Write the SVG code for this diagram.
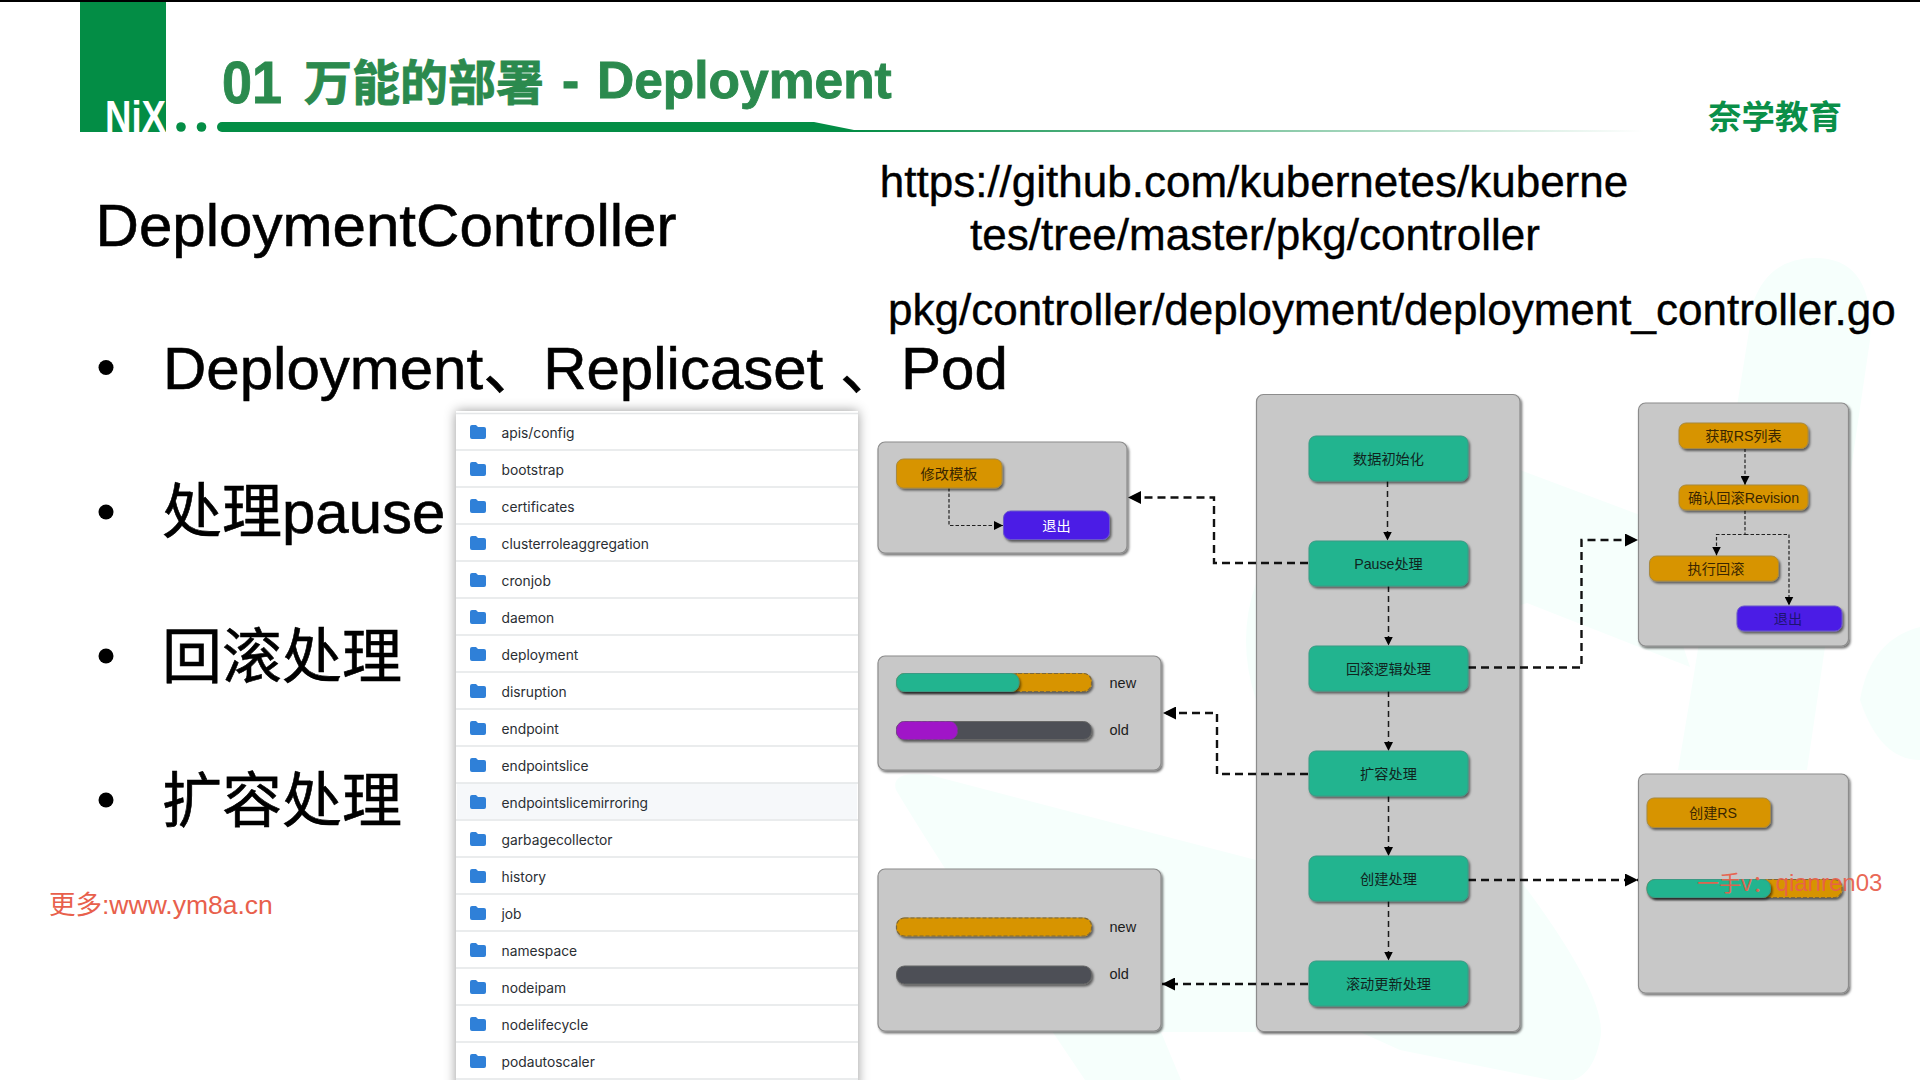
<svg xmlns="http://www.w3.org/2000/svg" width="1920" height="1080" viewBox="0 0 1920 1080">
<defs>
<style>
.t{font-family:"Liberation Sans","Noto Sans CJK SC",sans-serif}
.p{fill:#c8c8c8;stroke:#8c8c8c;stroke-width:1.2;filter:url(#sh)}
.g{fill:#20b48f;stroke:#3a9a84;stroke-width:1;filter:url(#sh)}
.o{fill:#d79400;stroke:#a8893f;stroke-width:1;filter:url(#sh)}
.b{fill:#4b1de6;stroke:#6b58c8;stroke-width:1;filter:url(#sh)}
.d{fill:#4d5056;stroke:#666;stroke-width:1;filter:url(#sh)}
.od{fill:#d79400;stroke:#7d683a;stroke-width:1.2;stroke-dasharray:4 2}
.nt{font-size:14.2px;fill:#10241e;text-anchor:middle}
.ot{font-size:14.2px;fill:#3a2600;text-anchor:middle}
.bar{font-size:14.5px;fill:#1c1c1c}
.big{font-size:60px;fill:#000;stroke:#000;stroke-width:.6}
.url{font-size:44px;fill:#000;stroke:#000;stroke-width:.4}
.row{font-family:Inter,"Liberation Sans",sans-serif;font-size:13.8px;fill:#2a2e33}
.sep{stroke:#e4e6e8;stroke-width:1.5}
.c1{fill:none;stroke:#111;stroke-width:2.4;stroke-dasharray:8 5}
.c2{fill:none;stroke:#1a1a1a;stroke-width:1.5;stroke-dasharray:6 4}
.c3{fill:none;stroke:#222;stroke-width:1.2;stroke-dasharray:3.5 2}
</style>
<filter id="sh" x="-10%" y="-20%" width="125%" height="150%"><feDropShadow dx="1.5" dy="2" stdDeviation="1.2" flood-color="#000" flood-opacity=".55"/></filter>
<filter id="ls" x="-5%" y="-5%" width="110%" height="110%"><feDropShadow dx="0" dy="0" stdDeviation="6" flood-color="#000" flood-opacity=".4"/></filter>
<linearGradient id="fade" x1="0" y1="0" x2="1" y2="0"><stop offset="0" stop-color="#038d45"/><stop offset="1" stop-color="#038d45" stop-opacity="0"/></linearGradient>
<marker id="a1" viewBox="0 0 13 13" refX="13" refY="6.5" markerWidth="13" markerHeight="13" markerUnits="userSpaceOnUse" orient="auto"><path d="M0 0L13 6.5L0 13z" fill="#000"/></marker>
<marker id="a2" viewBox="0 0 9 9" refX="9" refY="4.5" markerWidth="9" markerHeight="9" markerUnits="userSpaceOnUse" orient="auto"><path d="M0 0L9 4.5L0 9z" fill="#000"/></marker>
<path id="fo" d="M0 2Q0 0 2 0H6L8 2H14Q16 2 16 4V12Q16 14 14 14H2Q0 14 0 12z" fill="#2f80d8"/>
</defs>
<rect width="1920" height="1080" fill="#fff"/>
<g id="bg-logo" fill="#f6fffc">
<path d="M896 790Q890 770 930 775L1256 860V1032H1161L1181 1080H1085Q950 880 896 790z"/>
<path d="M1520 880Q1610 1000 1600 1040Q1590 1090 1550 1080L1400 1050L1360 1032H1520z"/>
<path d="M1256 583Q1236 640 1256 700L1527 603L1690 667L1640 515L1520 470L1300 450z"/>
<path d="M1754 300Q1770 258 1815 258Q1875 258 1870 340L1807 770H1678L1693 680z"/>
<path d="M1860 700Q1870 640 1920 627V760Q1880 760 1860 700z"/>
</g>
<g id="header">
<rect x="0" y="0" width="1920" height="2" fill="#000"/>
<rect x="80" y="2" width="86" height="130" fill="#038d45"/>
<text x="105" y="132" class="t" font-size="45" font-weight="bold" fill="#fff" textLength="61" lengthAdjust="spacingAndGlyphs">NiX</text>
<circle cx="181" cy="127" r="4.8" fill="#038d45"/>
<circle cx="201.500" cy="127" r="4.800" fill="#038d45"/>
<path d="M222 122H814L854 130V132H222A5 5 0 0 1 222 122z" fill="#038d45"/>
<rect x="854" y="130" width="790" height="2" fill="url(#fade)"/>
<text class="t" font-weight="bold" fill="#2b8a4e" stroke="#2b8a4e" stroke-width=".9"><tspan x="222" y="103" font-size="60" textLength="60" lengthAdjust="spacingAndGlyphs">01</tspan><tspan x="304" y="100" font-size="48">万能的部署</tspan></text>
<text class="t" font-weight="bold" fill="#2b8a4e" stroke="#2b8a4e" stroke-width=".9"><tspan x="562" y="98" font-size="51.500">-</tspan></text>
<text class="t" font-weight="bold" fill="#2b8a4e" stroke="#2b8a4e" stroke-width=".9"><tspan x="597" y="98" font-size="51.500">Deployment</tspan></text>
<text x="1708" y="129" class="t" font-size="33.500" font-weight="bold" fill="#0a8f48">奈学教育</text>
</g>
<g id="slide-text" class="t">
<text x="95.500" y="246" class="big" textLength="581" lengthAdjust="spacingAndGlyphs">DeploymentController</text>
<text x="1254" y="197" class="url" text-anchor="middle">https://github.com/kubernetes/kuberne</text>
<text x="1255" y="250" class="url" text-anchor="middle">tes/tree/master/pkg/controller</text>
<text x="888" y="325" class="url">pkg/controller/deployment/deployment_controller.go</text>
<circle cx="106" cy="367.500" r="7.500" fill="#000"/>
<circle cx="106" cy="512" r="7.500" fill="#000"/>
<circle cx="106" cy="656" r="7.500" fill="#000"/>
<circle cx="106" cy="800" r="7.500" fill="#000"/>
<text y="389" class="big"><tspan x="163">Deployment、Replicaset 、</tspan><tspan x="901">Pod</tspan></text>
<text x="162" y="533" class="big">处理pause</text>
<text x="162" y="678" class="big">回滚处理</text>
<text x="162" y="822" class="big">扩容处理</text>
<text x="49" y="914" font-size="26.500" fill="#e8604c">更多:www.ym8a.cn</text>
</g>
<g id="file-list">
<rect x="456" y="411" width="402" height="680" fill="#fff" filter="url(#ls)"/>
<rect x="457" y="783" width="400" height="36" fill="#f6f8fa"/>
<g class="sep">
<path d="M456 413.500H858M456 450H858M456 487H858M456 524H858M456 561H858M456 598H858M456 635H858M456 672H858M456 709H858M456 746H858M456 783H858M456 820H858M456 857H858M456 894H858M456 931H858M456 968H858M456 1005H858M456 1042H858M456 1079H858"/>
</g>
<use href="#fo" x="470" y="425"/><use href="#fo" x="470" y="462"/><use href="#fo" x="470" y="499"/><use href="#fo" x="470" y="536"/><use href="#fo" x="470" y="573"/><use href="#fo" x="470" y="610"/><use href="#fo" x="470" y="647"/><use href="#fo" x="470" y="684"/><use href="#fo" x="470" y="721"/><use href="#fo" x="470" y="758"/><use href="#fo" x="470" y="795"/><use href="#fo" x="470" y="832"/><use href="#fo" x="470" y="869"/><use href="#fo" x="470" y="906"/><use href="#fo" x="470" y="943"/><use href="#fo" x="470" y="980"/><use href="#fo" x="470" y="1017"/><use href="#fo" x="470" y="1054"/>
<text class="row" x="501.500" y="437.500">apis/config</text>
<text class="row" x="501.500" y="474.500">bootstrap</text>
<text class="row" x="501.500" y="511.500">certificates</text>
<text class="row" x="501.500" y="548.500">clusterroleaggregation</text>
<text class="row" x="501.500" y="585.500">cronjob</text>
<text class="row" x="501.500" y="622.500">daemon</text>
<text class="row" x="501.500" y="659.500">deployment</text>
<text class="row" x="501.500" y="696.500">disruption</text>
<text class="row" x="501.500" y="733.500">endpoint</text>
<text class="row" x="501.500" y="770.500">endpointslice</text>
<text class="row" x="501.500" y="807.500">endpointslicemirroring</text>
<text class="row" x="501.500" y="844.500">garbagecollector</text>
<text class="row" x="501.500" y="881.500">history</text>
<text class="row" x="501.500" y="918.500">job</text>
<text class="row" x="501.500" y="955.500">namespace</text>
<text class="row" x="501.500" y="992.500">nodeipam</text>
<text class="row" x="501.500" y="1029.500">nodelifecycle</text>
<text class="row" x="501.500" y="1066.500">podautoscaler</text>
</g>
<g id="panel-main"><rect class="p" x="1256.500" y="394.500" width="263.500" height="637" rx="7"/></g>
<g id="panel-pause"><rect class="p" x="878" y="442" width="249" height="111" rx="7"/></g>
<g id="panel-scale"><rect class="p" x="878" y="656" width="283" height="114" rx="7"/></g>
<g id="panel-rolling"><rect class="p" x="878" y="869" width="283" height="162" rx="7"/></g>
<g id="panel-rollback"><rect class="p" x="1638.500" y="403" width="210" height="243" rx="7"/></g>
<g id="panel-create"><rect class="p" x="1638.500" y="774" width="210" height="219" rx="7"/></g>
<g id="connectors">
<path class="c1" d="M1308 563H1214V497.500H1128" marker-end="url(#a1)"/>
<path class="c1" d="M1308 774H1217V713H1163" marker-end="url(#a1)"/>
<path class="c1" d="M1308 984H1162" marker-end="url(#a1)"/>
<path class="c1" d="M1468 667.500H1581.500V540H1638" marker-end="url(#a1)"/>
<path class="c1" d="M1468 880H1638" marker-end="url(#a1)"/>
<path class="c2" d="M1387.500 481V540.500" marker-end="url(#a2)"/>
<path class="c2" d="M1388.500 586V645.500" marker-end="url(#a2)"/>
<path class="c2" d="M1388.500 691V751" marker-end="url(#a2)"/>
<path class="c2" d="M1388.500 796V856" marker-end="url(#a2)"/>
<path class="c2" d="M1388.500 901V960.500" marker-end="url(#a2)"/>
<path class="c3" d="M949 488V525.500H1003" marker-end="url(#a2)"/>
<path class="c3" d="M1745 448.500V485" marker-end="url(#a2)"/>
<path class="c3" d="M1745 510.500V534.500H1716.500V555.500" marker-end="url(#a2)"/>
<path class="c3" d="M1745 534.500H1789V605.500" marker-end="url(#a2)"/>
</g>
<g id="n-init" class="t"><rect class="g" x="1309" y="436" width="159" height="45" rx="7"/><text class="nt" x="1388.500" y="463.500">数据初始化</text></g>
<g id="n-pause" class="t"><rect class="g" x="1309" y="541" width="159" height="45" rx="7"/><text class="nt" x="1388.500" y="568.500">Pause处理</text></g>
<g id="n-rollback" class="t"><rect class="g" x="1309" y="646" width="159" height="45" rx="7"/><text class="nt" x="1388.500" y="674">回滚逻辑处理</text></g>
<g id="n-scale" class="t"><rect class="g" x="1309" y="751" width="159" height="45" rx="7"/><text class="nt" x="1388.500" y="779">扩容处理</text></g>
<g id="n-create" class="t"><rect class="g" x="1309" y="856" width="159" height="45" rx="7"/><text class="nt" x="1388.500" y="884">创建处理</text></g>
<g id="n-rolling" class="t"><rect class="g" x="1309" y="961" width="159" height="45" rx="7"/><text class="nt" x="1388.500" y="989">滚动更新处理</text></g>
<g id="n-template" class="t"><rect class="o" x="896.500" y="459" width="105.500" height="29" rx="7"/><text class="ot" x="949" y="478.500">修改模板</text></g>
<g id="n-exit1" class="t"><rect class="b" x="1003.500" y="511" width="106" height="28.500" rx="7"/><text class="nt" x="1056.500" y="530.500" style="fill:#fff">退出</text></g>
<g id="n-listrs" class="t"><rect class="o" x="1679" y="423" width="129" height="25.500" rx="7"/><text class="ot" x="1743.500" y="441">获取RS列表</text></g>
<g id="n-confirm" class="t"><rect class="o" x="1679" y="485" width="129" height="25" rx="7"/><text class="ot" x="1743.500" y="503">确认回滚Revision</text></g>
<g id="n-exec" class="t"><rect class="o" x="1649.500" y="556" width="129" height="25" rx="7"/><text class="ot" x="1716" y="574">执行回滚</text></g>
<g id="n-exit2" class="t"><rect class="b" x="1737" y="606" width="105" height="25" rx="7"/><text class="nt" x="1788" y="624" style="fill:#1d1470">退出</text></g>
<g id="n-creaters" class="t"><rect class="o" x="1647" y="798" width="123.500" height="29.500" rx="7"/><text class="ot" x="1713" y="818">创建RS</text></g>
<g id="bars-scale" class="t">
<rect class="o" x="896.500" y="673.500" width="195" height="18" rx="8"/><rect class="od" x="1010" y="673.500" width="81.500" height="18" rx="8"/>
<rect class="g" x="896.500" y="673.500" width="122.500" height="18" rx="8"/>
<rect class="d" x="896.500" y="721.500" width="195" height="18" rx="8"/>
<rect x="896.500" y="721.500" width="61" height="18" rx="8" fill="#a015c8" stroke="#7a3a90" stroke-dasharray="4 2"/>
<text class="bar" x="1109.500" y="688">new</text><text class="bar" x="1109.500" y="734.500">old</text>
</g>
<g id="bars-rolling" class="t">
<rect class="o" x="896.500" y="918" width="195" height="18" rx="8"/><rect class="od" x="896.500" y="918" width="195" height="18" rx="8"/>
<rect class="d" x="896.500" y="966" width="195" height="18" rx="8"/>
<text class="bar" x="1109.500" y="932">new</text><text class="bar" x="1109.500" y="979">old</text>
</g>
<g id="bars-create">
<rect class="o" x="1647" y="879.500" width="195" height="18" rx="8"/><rect class="od" x="1760" y="879.500" width="82" height="18" rx="8"/>
<rect class="g" x="1647" y="879.500" width="123.500" height="18" rx="8"/>
</g>
<text id="watermark" class="t" fill="#e8604c" fill-opacity=".95" y="891"><tspan x="1697" font-size="22">一手v：</tspan><tspan x="1775.600" font-size="24">qianren03</tspan></text>
</svg>
